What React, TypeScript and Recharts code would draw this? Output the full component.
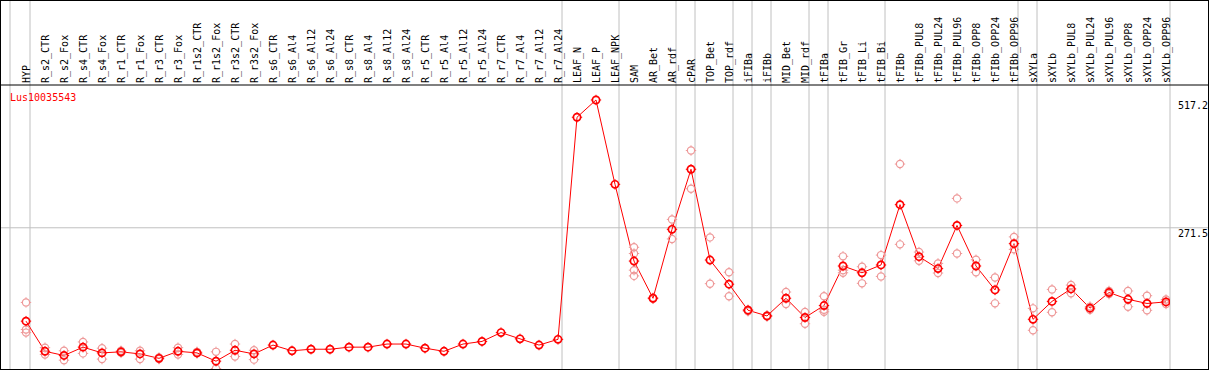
import {
  ComposedChart,
  Line,
  Scatter,
  XAxis,
  YAxis,
  ReferenceLine,
} from "recharts";

const labels = [
  "HYP", "R_s2_CTR", "R_s2_Fox", "R_s4_CTR", "R_s4_Fox", "R_r1_CTR", "R_r1_Fox",
  "R_r3_CTR", "R_r3_Fox", "R_r1s2_CTR", "R_r1s2_Fox", "R_r3s2_CTR", "R_r3s2_Fox",
  "R_s6_CTR", "R_s6_Al4", "R_s6_Al12", "R_s6_Al24", "R_s8_CTR", "R_s8_Al4",
  "R_s8_Al12", "R_s8_Al24", "R_r5_CTR", "R_r5_Al4", "R_r5_Al12", "R_r5_Al24",
  "R_r7_CTR", "R_r7_Al4", "R_r7_Al12", "R_r7_Al24", "LEAF_N", "LEAF_P", "LEAF_NPK",
  "SAM", "AR_Bet", "AR_rdf", "cPAR", "TOP_Bet", "TOP_rdf", "iFIBa", "iFIBb",
  "MID_Bet", "MID_rdf", "tFIBa", "tFIB_Gr", "tFIB_Li", "tFIB_Bi", "tFIBb",
  "tFIBb_PUL8", "tFIBb_PUL24", "tFIBb_PUL96", "tFIBb_OPP8", "tFIBb_OPP24",
  "tFIBb_OPP96", "sXYLa", "sXYLb", "sXYLb_PUL8", "sXYLb_PUL24", "sXYLb_PUL96",
  "sXYLb_OPP8", "sXYLb_OPP24", "sXYLb_OPP96",
];

const means = [
  92, 34, 26, 42, 31, 33, 29, 20.5, 34, 31, 15, 36, 29,
  46, 35, 38, 38, 42, 42, 48, 48, 40, 34, 48, 53, 70, 58, 46, 57,
  484, 517.2, 355, 207.5, 136, 268.5, 384, 209.5, 163, 113, 102,
  136, 99, 122, 198, 185, 200, 316, 216, 193, 276, 198, 152, 241,
  95.5, 130, 154, 117, 147, 134, 126, 129,
];

// replicate values (null = not visible / absent)
const rep1 = [
  128, 41, 35, 52, 40, 35, 35, 22, 41, 33, 33, 48, 36,
  null, null, null, null, null, null, null, null, null, null, null, null, null, null, null, null,
  null, null, null, 234, 137, 287.6, 420, 253, 186, 114, 103,
  148, 109.5, 140, 216.6, 196.6, 219, 394, 224.8, 203, 328, 210, 176, 254,
  116.6, 153, 161.4, 120, 150, 150, 140.9, 133.5,
];
const rep2 = [
  76, 28, 17, 30, 19, 31, 19, 19, 28, 30, 1, 24, 18,
  null, null, null, null, null, null, null, null, null, null, null, null, null, null, null, null,
  null, null, null, 222, 135, 250, 346.5, 164, 140, 111, 101,
  125, 87, 114, 190, 164.7, 178, 239.6, 208, 184.5, 222, 185.8, 126.2, 230,
  74.4, 109, 145.5, 114, 144, 119.7, 112.8, 125,
];
const rep3 = [
  70, null, null, null, null, null, null, null, null, null, null, null, null,
  null, null, null, null, null, null, null, null, null, null, null, null, null, null, null, null,
  null, null, null, 190, null, null, null, null, null, null, null,
  null, null, 110, 185, null, null, null, null, null, null, null, null, null,
  null, null, null, null, null, null, null, null,
];
const rep4 = [
  null, null, null, null, null, null, null, null, null, null, null, null, null,
  null, null, null, null, null, null, null, null, null, null, null, null, null, null, null, null,
  null, null, null, 179, null, null, null, null, null, null, null,
  null, null, null, null, null, null, null, null, null, null, null, null, null,
  null, null, null, null, null, null, null, null,
];

// last sample index of each group (separator drawn just right of it)
const groupEnds = [0, 28, 31, 34, 35, 37, 38, 39, 41, 42, 45, 52, 53, 60];
const yTicks = [0, 271.5, 517.2];
const title = "Lus10035543";

const W = 1207;
const H = 368;
const STEP = 19;
const XMIN = -25 / STEP;
const XMAX = XMIN + 1169 / STEP;
const XFAR = XMIN + W / STEP + 1;
const YMAX = 546;
const YTOP = 740;
const SEP = 4 / STEP;

const rows = means.map((m, i) => ({ x: i, mean: m }));
const repPts = [rep1, rep2, rep3, rep4].flatMap((arr) =>
  arr.flatMap((v, i) => (v == null ? [] : [{ x: i, y: v }]))
);

const MONO = "DejaVu Sans Mono";

function Ring({ cx, cy, color, sw }: { cx: number; cy: number; color: string; sw: number }) {
  const r = 3.6;
  const t = 1.6;
  return (
    <g stroke={color} strokeWidth={sw} fill="none">
      <circle cx={cx} cy={cy} r={r} />
      <line x1={cx} y1={cy - r} x2={cx} y2={cy - r - t} strokeWidth={1} />
      <line x1={cx} y1={cy + r} x2={cx} y2={cy + r + t} strokeWidth={1} />
      <line x1={cx - r} y1={cy} x2={cx - r - t} y2={cy} strokeWidth={1} />
      <line x1={cx + r} y1={cy} x2={cx + r + t} y2={cy} strokeWidth={1} />
    </g>
  );
}

function XTick(props: any) {
  const { x, payload } = props;
  return (
    <text
      transform={`translate(${x + 4},82) rotate(-90)`}
      fontFamily={MONO}
      fontSize={10}
      fill="#000"
      textAnchor="start"
    >
      {labels[payload.value]}
    </text>
  );
}

function YTick(props: any) {
  const { y, payload } = props;
  const ty = payload.value === 0 ? y - 4 : y + 9;
  return (
    <text x={1177} y={ty} fontFamily={MONO} fontSize={10} fill="#000">
      {payload.value}
    </text>
  );
}

export default function App() {
  return (
    <div
      style={{
        position: "absolute",
        left: 0,
        top: 0,
        width: 1209,
        height: 370,
        border: "1px solid #000",
        boxSizing: "border-box",
        background: "#fff",
      }}
    >
      <ComposedChart
        width={W}
        height={H}
        data={rows}
        margin={{ top: 0, right: 0, bottom: 0, left: 0 }}
      >
        <XAxis
          dataKey="x"
          type="number"
          orientation="top"
          domain={[XMIN, XMAX]}
          ticks={labels.map((_, i) => i)}
          interval={0}
          height={84}
          axisLine={false}
          tickLine={false}
          allowDataOverflow
          tick={<XTick />}
        />
        <YAxis
          type="number"
          orientation="right"
          domain={[0, YMAX]}
          ticks={yTicks}
          width={38}
          axisLine={false}
          tickLine={false}
          allowDataOverflow
          tick={<YTick />}
        />
        <ReferenceLine
          ifOverflow="visible"
          stroke="#c0c0c0"
          segment={[{ x: XMIN, y: 271.5 }, { x: XFAR, y: 271.5 }]}
        />
        <ReferenceLine
          ifOverflow="visible"
          stroke="#c0c0c0"
          segment={[{ x: -16 / STEP, y: 0 }, { x: -16 / STEP, y: YTOP }]}
        />
        {groupEnds.map((g) => (
          <ReferenceLine
            key={g}
            ifOverflow="visible"
            stroke="#c0c0c0"
            segment={[{ x: g + SEP, y: 0 }, { x: g + SEP, y: YTOP }]}
          />
        ))}
        <ReferenceLine
          ifOverflow="visible"
          stroke="#000"
          segment={[{ x: XMIN - 1, y: YMAX }, { x: XFAR, y: YMAX }]}
        />
        <Scatter
          data={repPts}
          dataKey="y"
          isAnimationActive={false}
          shape={(p: any) => <Ring cx={p.cx} cy={p.cy} color="#ee9999" sw={1.2} />}
        />
        <Line
          dataKey="mean"
          stroke="#ff0000"
          strokeWidth={1}
          isAnimationActive={false}
          dot={(p: any) => <Ring key={p.index} cx={p.cx} cy={p.cy} color="#ff0000" sw={1.7} />}
          activeDot={false}
        />
      </ComposedChart>
      <div
        style={{
          position: "absolute",
          left: 9,
          top: 92,
          fontFamily: MONO,
          fontSize: 10,
          lineHeight: "10px",
          color: "#ff0000",
        }}
      >
        {title}
      </div>
    </div>
  );
}
